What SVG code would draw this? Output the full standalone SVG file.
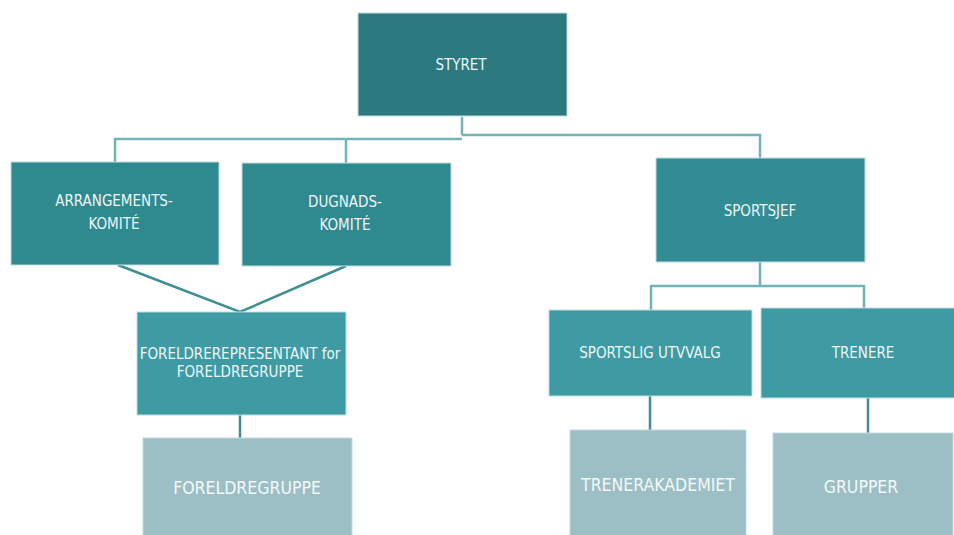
<svg xmlns="http://www.w3.org/2000/svg" width="954" height="535" viewBox="0 0 954 535">
<style>
.box{stroke:#bfdcdf;stroke-width:1}
.l0{fill:#2c7a80}
.l1{fill:#2f8a90}
.l2{fill:#3e9ba4}
.l3{fill:#9bbfc5}
.t{font-family:"DejaVu Sans Condensed","DejaVu Sans",sans-serif;font-stretch:condensed;fill:#edf5f5;text-anchor:middle;font-size:15px}
.tb{font-size:17.5px;fill:#f4f8f8}
.c{fill:none;stroke:#72b3b8;stroke-width:2.5}
.d{fill:none;stroke:#3f8e94;stroke-width:2.5}
</style>
<rect width="954" height="535" fill="#ffffff"/>
<g id="connectors">
<path class="c" d="M462 117 V135 M462 135 H760 V158 M462 139 H115 V162 M346 139 V163"/>
<path class="d" d="M118 265 L240 312 L346 266"/>
<path class="d" d="M240 415 V438"/>
<path class="c" d="M760 262 V286 M651 286 H864 M651 285 V310 M864 285 V308"/>
<path class="d" d="M650 396 V430 M868 398 V433"/>
</g>
<g id="styret"><rect class="box l0" x="358" y="13" width="209" height="103"/><text class="t" x="461" y="70">STYRET</text></g>
<g id="arrangementskomite"><rect class="box l1" x="11" y="162" width="208" height="103"/><text class="t" x="114" y="206">ARRANGEMENTS-</text><text class="t" x="114" y="229">KOMITÉ</text></g>
<g id="dugnadskomite"><rect class="box l1" x="242" y="163" width="209" height="103"/><text class="t" x="345" y="207">DUGNADS-</text><text class="t" x="345" y="230">KOMITÉ</text></g>
<g id="sportsjef"><rect class="box l1" x="656" y="158" width="209" height="104" style="fill:#338c93"/><text class="t" x="760" y="216">SPORTSJEF</text></g>
<g id="foreldrerepresentant"><rect class="box l2" x="137" y="312" width="209" height="103"/><text class="t" x="240" y="359">FORELDREREPRESENTANT for</text><text class="t" x="240" y="377">FORELDREGRUPPE</text></g>
<g id="foreldregruppe"><rect class="box l3" x="143" y="438" width="209" height="100"/><text class="t tb" x="247" y="494">FORELDREGRUPPE</text></g>
<g id="sportslig"><rect class="box l2" x="549" y="310" width="203" height="86"/><text class="t" x="650" y="358">SPORTSLIG UTVVALG</text></g>
<g id="trenere"><rect class="box l2" x="761" y="308" width="196" height="90"/><text class="t" x="863" y="358">TRENERE</text></g>
<g id="trenerakademiet"><rect class="box l3" x="570" y="430" width="176" height="108"/><text class="t tb" x="658" y="491">TRENERAKADEMIET</text></g>
<g id="grupper"><rect class="box l3" x="773" y="433" width="180" height="105"/><text class="t tb" x="861" y="493">GRUPPER</text></g>
</svg>
